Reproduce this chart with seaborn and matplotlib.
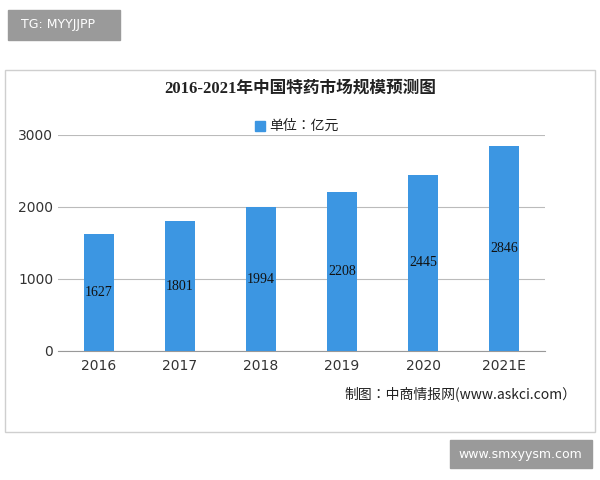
import matplotlib
matplotlib.use("Agg")
import matplotlib.pyplot as plt
from matplotlib import font_manager
import seaborn as sns
import pandas as pd
from matplotlib.patches import Rectangle

years = ["2016", "2017", "2018", "2019", "2020", "2021E"]
values = [1627, 1801, 1994, 2208, 2445, 2846]
yticks = [0, 1000, 2000, 3000]

names = {f.name for f in font_manager.fontManager.ttflist}
cjk = next((n for n in ["Noto Sans CJK SC", "Noto Sans CJK JP", "Noto Sans CJK TC"] if n in names),
           next((n for n in sorted(names) if "Sans CJK" in n), "Noto Sans CJK SC"))
plt.rcParams["font.family"] = "sans-serif"
plt.rcParams["font.sans-serif"] = ["DejaVu Sans", cjk]
df = pd.DataFrame({"year": years, "value": values})

fig = plt.figure(figsize=(6, 4.8), dpi=100)
fig.patches.append(Rectangle((0.008, 0.1), 0.984, 0.755, transform=fig.transFigure,
                             fill=False, edgecolor="#cfcfcf", linewidth=1))
ax = fig.add_axes([0.097, 0.269, 0.811, 0.45])
sns.barplot(data=df, x="year", y="value", color="#3c96e2", width=0.37,
            saturation=1, ax=ax, zorder=3)
ax.set_ylim(0, 3000)
ax.set_yticks(yticks)
ax.yaxis.grid(True, color="#bbbbbb", linewidth=0.8, zorder=0)
ax.set_axisbelow(True)
for s in ["top", "right", "left"]:
    ax.spines[s].set_visible(False)
ax.spines["bottom"].set_color("#999999")
ax.tick_params(axis="y", length=0, labelsize=10, colors="#333333")
ax.tick_params(axis="x", length=0, labelsize=10, colors="#333333", pad=6)
ax.set_xlabel("")
ax.set_ylabel("")
for i, v in enumerate(values):
    ax.text(i, v / 2, str(v), ha="center", va="center", fontsize=10,
            family="Liberation Serif", color="#111111", zorder=4)

fig.text(0.5, 0.815, "2016-2021年中国特药市场规模预测图", ha="center", va="center",
         fontsize=12, fontweight="bold", color="#222222", family=["Liberation Serif", cjk])
fig.patches.append(Rectangle((0.425, 0.728), 0.016, 0.02, transform=fig.transFigure,
                             color="#3c96e2"))
fig.text(0.448, 0.738, "单位：亿元", ha="left", va="center", fontsize=10, color="#222222",
         family=cjk)
fig.text(0.96, 0.179, "制图：中商情报网(www.askci.com）", ha="right", va="center",
         fontsize=10, color="#222222", family=cjk)

fig.patches.append(Rectangle((0.013, 0.917), 0.187, 0.062, transform=fig.transFigure,
                             color="#9a9a9a"))
fig.text(0.035, 0.948, "TG: MYYJJPP", ha="left", va="center", fontsize=9, color="white",
         family="DejaVu Sans")
fig.patches.append(Rectangle((0.75, 0.025), 0.237, 0.058, transform=fig.transFigure,
                             color="#9a9a9a"))
fig.text(0.868, 0.054, "www.smxyysm.com", ha="center", va="center", fontsize=9, color="white",
         family="DejaVu Sans")

fig.savefig("out.png", dpi=100)
